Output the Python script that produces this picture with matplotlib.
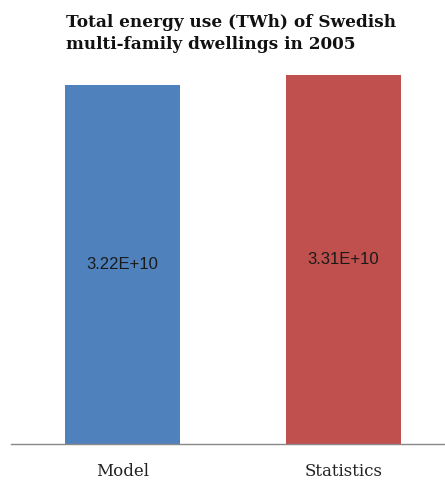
import matplotlib
matplotlib.use("Agg")
import matplotlib.pyplot as plt

# data
categories = ["Model", "Statistics"]
values = [3.22e10, 3.31e10]
value_labels = ["3.22E+10", "3.31E+10"]
colors = ["#4F81BD", "#C0504D"]
title_lines = ["Total energy use (TWh) of Swedish", "multi-family dwellings in 2005"]

W, H = 445, 482
fig = plt.figure(figsize=(W / 100, H / 100), dpi=100)

# axes placed in pixel terms: x 11..445, baseline at y=444, top at y=60
ax = fig.add_axes([11 / W, (H - 444) / H, (W - 11) / W, 384 / H])

x = list(range(len(categories)))
bars = ax.bar(x, values, width=0.52, color=colors)
ax.set_xlim(-0.505, 1.46)
ax.set_ylim(0, 3.31e10 * 384 / 369)

for b, lab in zip(bars, value_labels):
    ax.text(b.get_x() + b.get_width() / 2, b.get_height() / 2, lab,
            ha="center", va="center", fontsize=12, family="Liberation Sans",
            color="#1a1a1a")

for s in ["top", "right", "left"]:
    ax.spines[s].set_visible(False)
ax.spines["bottom"].set_color("#888888")
ax.spines["bottom"].set_linewidth(1.0)
ax.set_yticks([])
ax.set_xticks(x)
ax.set_xticklabels(categories, family="DejaVu Serif", fontsize=12, color="#222222")
ax.tick_params(axis="x", length=0, pad=14)

# title, two lines at baselines y=27 and y=49 px
for line, yb in zip(title_lines, [27, 49]):
    fig.text(66 / W, 1 - yb / H, line, ha="left", va="baseline",
             family="DejaVu Serif", weight="bold", fontsize=12.2, color="#111111")

fig.savefig("out.png", dpi=100)
